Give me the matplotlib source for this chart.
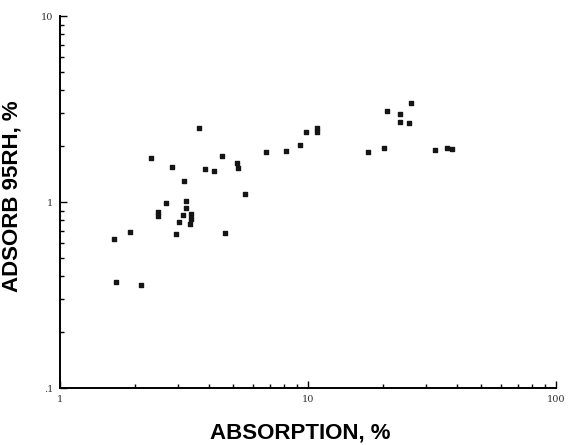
import matplotlib
matplotlib.use("Agg")
import matplotlib.pyplot as plt
from matplotlib.ticker import FixedLocator, LogLocator, NullFormatter

# absorption (%) vs adsorption at 95% RH (%)
absorption = [3.64, 2.32, 2.82, 4.51, 3.85, 4.18, 5.16, 5.20, 3.16, 5.57,
              2.68, 3.21, 3.22, 2.48, 2.48, 3.14, 3.38, 3.38, 3.03, 3.33,
              2.93, 1.91, 1.65, 4.61, 1.68, 2.13, 6.75, 8.18, 9.29, 9.82,
              10.9, 10.9, 17.4, 20.3, 20.9, 26.0, 23.6, 23.4, 25.6, 32.6,
              36.3, 38.0]
adsorb_95rh = [2.50, 1.73, 1.54, 1.77, 1.50, 1.47, 1.62, 1.53, 1.30, 1.11,
               0.99, 1.01, 0.925, 0.887, 0.841, 0.848, 0.867, 0.815, 0.781, 0.761,
               0.670, 0.692, 0.632, 0.679, 0.371, 0.359, 1.86, 1.89, 2.03, 2.37,
               2.50, 2.38, 1.85, 1.94, 3.10, 3.39, 2.97, 2.70, 2.65, 1.90,
               1.94, 1.92]

x_ticks = [1, 10, 100]
x_labels = ["1", "10", "100"]
y_ticks = [0.1, 1, 10]
y_labels = [".1", "1", "10"]

fig = plt.figure(figsize=(5.69, 4.45), dpi=100)
ax = fig.add_axes([0.1054, 0.128, 0.8717, 0.836])

ax.scatter(absorption, adsorb_95rh, marker="s", s=11, color="#151515", zorder=3)

ax.set_xscale("log")
ax.set_yscale("log")
ax.set_xlim(1, 100)
ax.set_ylim(0.1, 10)

# only left and bottom axis lines, like the old plotter output
ax.spines["top"].set_visible(False)
ax.spines["right"].set_visible(False)
ax.spines["left"].set_linewidth(1.4)
ax.spines["bottom"].set_linewidth(1.4)

ax.xaxis.set_major_locator(FixedLocator(x_ticks))
ax.yaxis.set_major_locator(FixedLocator(y_ticks))
ax.set_xticklabels(x_labels, fontsize=7, family="DejaVu Serif", color="#333333")
ax.set_yticklabels(y_labels, fontsize=7, family="DejaVu Serif", color="#333333")
ax.xaxis.set_minor_locator(LogLocator(base=10, subs=range(2, 10)))
ax.yaxis.set_minor_locator(LogLocator(base=10, subs=range(2, 10)))
ax.xaxis.set_minor_formatter(NullFormatter())
ax.yaxis.set_minor_formatter(NullFormatter())
ax.tick_params(which="major", direction="in", length=5, width=1, pad=5)
ax.tick_params(which="minor", direction="in", length=3, width=1)

ax.set_xlabel("ABSORPTION, %", fontsize=16, fontweight="bold",
              family="Liberation Sans")
ax.set_ylabel("ADSORB 95RH, %", fontsize=16, fontweight="bold",
              family="Liberation Sans")
ax.xaxis.set_label_coords(0.484, -0.093)
ax.yaxis.set_label_coords(-0.076, 0.516)

fig.savefig("out.png", dpi=100)
